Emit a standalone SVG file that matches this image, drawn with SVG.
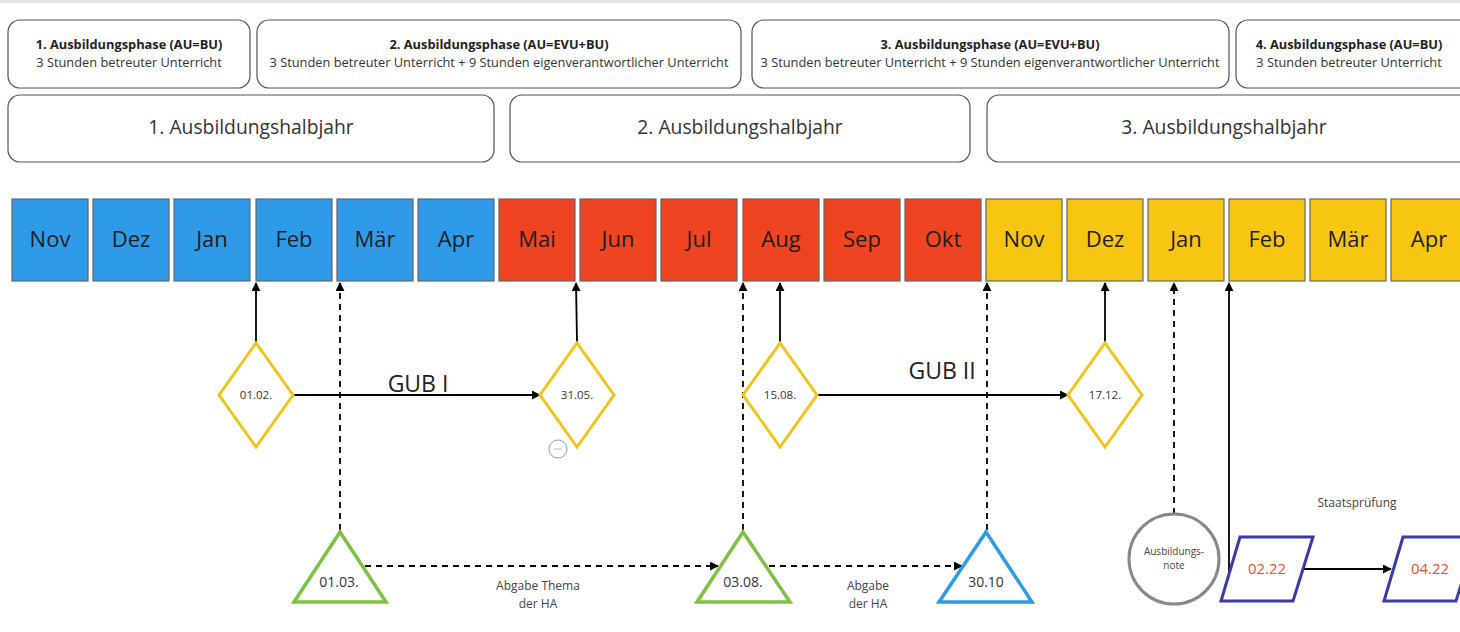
<svg xmlns="http://www.w3.org/2000/svg" width="1460" height="632" viewBox="0 0 1460 632">
<style>
text{font-family:"Open Sans","Noto Sans","Liberation Sans",sans-serif;fill:#222;text-anchor:middle}
.box{fill:#fff;stroke:#555;stroke-width:1.2}
.ph1{font-weight:bold;font-size:12.8px}
.ph2{font-size:12.8px;fill:#333}
.hj{font-size:19.3px;fill:#333}
.m{stroke:#666;stroke-width:1.2}
.mt{font-size:22px;fill:#1e1e1e}
.blue{fill:#2f9be8}
.red{fill:#ef4422}
.yel{fill:#f7c613}
.dia{fill:#fff;stroke:#f2c31a;stroke-width:3}
.dt{font-size:11.5px;fill:#333}
.tri{fill:#fff;stroke-width:3.5}
.tt{font-size:14px;fill:#333}
.lbl{font-size:12px;fill:#444}
.c{fill:none;stroke:#000;stroke-width:1.8}
.d{stroke-dasharray:6 5}
</style>
<defs>
<marker id="ah" viewBox="0 0 10 10" refX="9" refY="5" markerWidth="5" markerHeight="5" orient="auto"><path d="M0,0 L10,5 L0,10 z" fill="#000"/></marker>
</defs>
<rect x="0" y="0" width="1460" height="3" fill="#e4e4e4"/>

<g id="phase1"><rect class="box" x="8" y="20" width="242" height="68" rx="12"/><text class="ph1" x="129" y="49">1. Ausbildungsphase (AU=BU)</text><text class="ph2" x="129" y="67">3 Stunden betreuter Unterricht</text></g>
<g id="phase2"><rect class="box" x="257" y="20" width="484" height="68" rx="12"/><text class="ph1" x="499" y="49">2. Ausbildungsphase (AU=EVU+BU)</text><text class="ph2" x="499" y="67">3 Stunden betreuter Unterricht + 9 Stunden eigenverantwortlicher Unterricht</text></g>
<g id="phase3"><rect class="box" x="752" y="20" width="477" height="68" rx="12"/><text class="ph1" x="990" y="49">3. Ausbildungsphase (AU=EVU+BU)</text><text class="ph2" x="990" y="67">3 Stunden betreuter Unterricht + 9 Stunden eigenverantwortlicher Unterricht</text></g>
<g id="phase4"><rect class="box" x="1236" y="20" width="236" height="68" rx="12"/><text class="ph1" x="1349" y="49">4. Ausbildungsphase (AU=BU)</text><text class="ph2" x="1349" y="67">3 Stunden betreuter Unterricht</text></g>

<g id="halbjahr1"><rect class="box" x="8" y="95" width="486" height="67" rx="12"/><text class="hj" x="251" y="134">1. Ausbildungshalbjahr</text></g>
<g id="halbjahr2"><rect class="box" x="510" y="95" width="460" height="67" rx="12"/><text class="hj" x="740" y="134">2. Ausbildungshalbjahr</text></g>
<g id="halbjahr3"><rect class="box" x="987" y="95" width="485" height="67" rx="12"/><text class="hj" x="1224" y="134">3. Ausbildungshalbjahr</text></g>

<g id="m-nov1"><rect class="m blue" x="12" y="199" width="76" height="82"/><text class="mt" x="50" y="247">Nov</text></g>
<g id="m-dez1"><rect class="m blue" x="93" y="199" width="76" height="82"/><text class="mt" x="131" y="247">Dez</text></g>
<g id="m-jan1"><rect class="m blue" x="174" y="199" width="76" height="82"/><text class="mt" x="212" y="247">Jan</text></g>
<g id="m-feb1"><rect class="m blue" x="256" y="199" width="76" height="82"/><text class="mt" x="294" y="247">Feb</text></g>
<g id="m-mar1"><rect class="m blue" x="337" y="199" width="76" height="82"/><text class="mt" x="375" y="247">Mär</text></g>
<g id="m-apr1"><rect class="m blue" x="418" y="199" width="76" height="82"/><text class="mt" x="456" y="247">Apr</text></g>
<g id="m-mai"><rect class="m red" x="499" y="199" width="76" height="82"/><text class="mt" x="537" y="247">Mai</text></g>
<g id="m-jun"><rect class="m red" x="580" y="199" width="76" height="82"/><text class="mt" x="618" y="247">Jun</text></g>
<g id="m-jul"><rect class="m red" x="661" y="199" width="76" height="82"/><text class="mt" x="699" y="247">Jul</text></g>
<g id="m-aug"><rect class="m red" x="743" y="199" width="76" height="82"/><text class="mt" x="781" y="247">Aug</text></g>
<g id="m-sep"><rect class="m red" x="824" y="199" width="76" height="82"/><text class="mt" x="862" y="247">Sep</text></g>
<g id="m-okt"><rect class="m red" x="905" y="199" width="76" height="82"/><text class="mt" x="943" y="247">Okt</text></g>
<g id="m-nov2"><rect class="m yel" x="986" y="199" width="76" height="82"/><text class="mt" x="1024" y="247">Nov</text></g>
<g id="m-dez2"><rect class="m yel" x="1067" y="199" width="76" height="82"/><text class="mt" x="1105" y="247">Dez</text></g>
<g id="m-jan2"><rect class="m yel" x="1148" y="199" width="76" height="82"/><text class="mt" x="1186" y="247">Jan</text></g>
<g id="m-feb2"><rect class="m yel" x="1229" y="199" width="76" height="82"/><text class="mt" x="1267" y="247">Feb</text></g>
<g id="m-mar2"><rect class="m yel" x="1310" y="199" width="76" height="82"/><text class="mt" x="1348" y="247">Mär</text></g>
<g id="m-apr2"><rect class="m yel" x="1391" y="199" width="76" height="82"/><text class="mt" x="1429" y="247">Apr</text></g>

<g id="connectors">
<path class="c" d="M256,342 V283" marker-end="url(#ah)"/>
<path class="c d" d="M340,530 V283" marker-end="url(#ah)"/>
<path class="c" d="M577,342 L576,283" marker-end="url(#ah)"/>
<path class="c d" d="M743,530 V283" marker-end="url(#ah)"/>
<path class="c" d="M780,342 V283" marker-end="url(#ah)"/>
<path class="c d" d="M987,530 V283" marker-end="url(#ah)"/>
<path class="c" d="M1105,342 V283" marker-end="url(#ah)"/>
<path class="c d" d="M1174,514 V283" marker-end="url(#ah)"/>
<path class="c" d="M1232,571 H1229 V283" marker-end="url(#ah)"/>
<path class="c" d="M294,395 H540" marker-end="url(#ah)"/>
<path class="c" d="M818,395 H1068" marker-end="url(#ah)"/>
<path class="c d" d="M365,566 H718" marker-end="url(#ah)"/>
<path class="c d" d="M769,566 H962" marker-end="url(#ah)"/>
<path class="c" d="M1303,569 H1391" marker-end="url(#ah)"/>
<text x="418" y="392" style="font-size:23px;fill:#222">GUB I</text>
<text x="942" y="379" style="font-size:23px;fill:#222">GUB II</text>
<text class="lbl" x="538" y="590">Abgabe Thema</text>
<text class="lbl" x="538" y="608">der HA</text>
<text class="lbl" x="868" y="590">Abgabe</text>
<text class="lbl" x="868" y="608">der HA</text>
<text class="lbl" x="1357" y="507">Staatsprüfung</text>
</g>

<g id="d-0102"><polygon class="dia" points="256,343 293,395 256,447 219,395"/><text class="dt" x="256" y="399">01.02.</text></g>
<g id="d-3105"><polygon class="dia" points="577,343 614,395 577,447 540,395"/><text class="dt" x="577" y="399">31.05.</text></g>
<g id="d-1508"><polygon class="dia" points="780,343 817,395 780,447 743,395"/><text class="dt" x="780" y="399">15.08.</text></g>
<g id="d-1712"><polygon class="dia" points="1105,343 1142,395 1105,447 1068,395"/><text class="dt" x="1105" y="399">17.12.</text></g>

<g id="icon"><circle cx="558" cy="449" r="9" fill="#fff" stroke="#999" stroke-width="1"/><line x1="554" y1="449" x2="562" y2="449" stroke="#aaa" stroke-width="0.8"/></g>

<g id="t-0103"><polygon class="tri" stroke="#7dc244" points="340,532 386,602 294,602"/><text class="tt" x="339" y="587">01.03.</text></g>
<g id="t-0308"><polygon class="tri" stroke="#7dc244" points="743,532 790,602 697,602"/><text class="tt" x="743" y="587">03.08.</text></g>
<g id="t-3010"><polygon class="tri" stroke="#2f9be8" points="986,532 1032,602 939,602"/><text class="tt" x="986" y="587">30.10</text></g>

<g id="note"><circle cx="1174" cy="559" r="45" fill="#fff" stroke="#888" stroke-width="3"/><text x="1174" y="555" style="font-size:10px;fill:#444">Ausbildungs-</text><text x="1174" y="569" style="font-size:10px;fill:#444">note</text></g>

<g id="p-0222"><polygon fill="#fff" stroke="#3a3aa8" stroke-width="3" points="1240,537 1313,537 1293,601 1221,601"/><text x="1267" y="574" style="font-size:15px;fill:#e8532b">02.22</text></g>
<g id="p-0422"><polygon fill="#fff" stroke="#3a3aa8" stroke-width="3" points="1403,537 1476,537 1456,601 1384,601"/><text x="1430" y="574" style="font-size:15px;fill:#e8532b">04.22</text></g>
</svg>
